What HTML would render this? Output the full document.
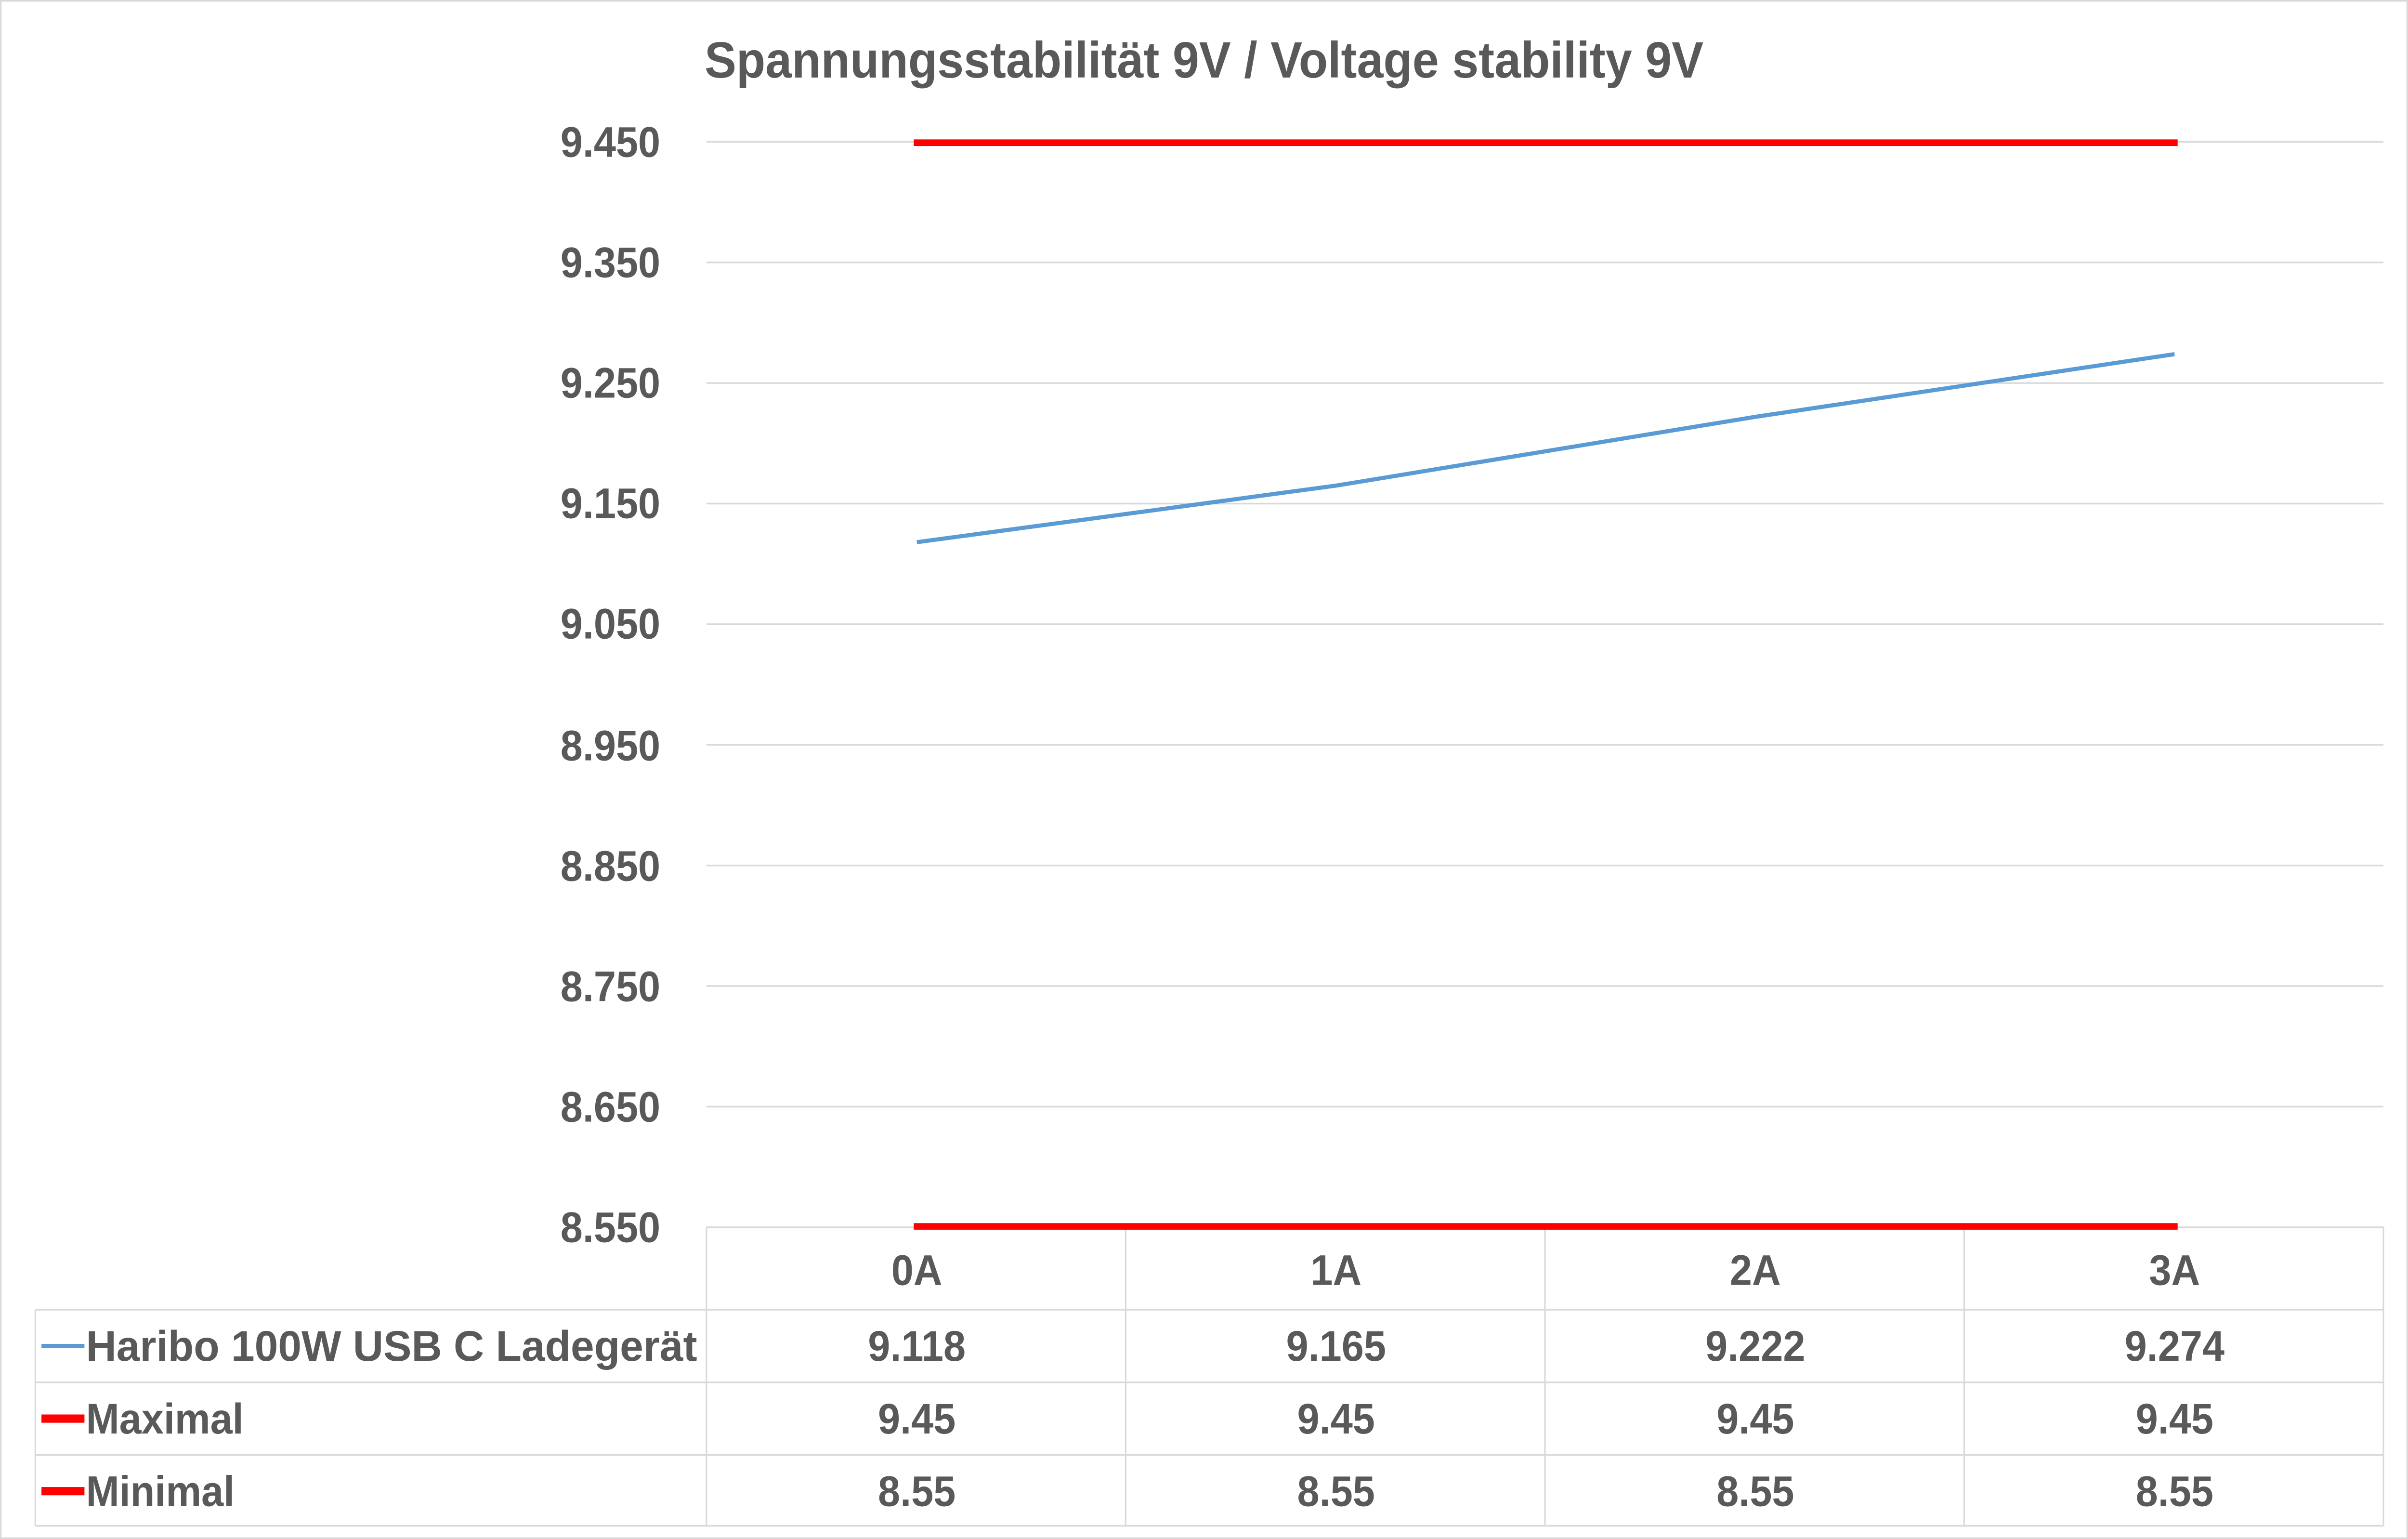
<!DOCTYPE html>
<html><head><meta charset="utf-8"><style>
html,body{margin:0;padding:0;background:#fff;width:100%;height:100%;overflow:hidden;}
svg{display:block;width:100vw;height:100vh;}
text{font-family:"Liberation Sans",sans-serif;font-weight:bold;fill:#595959;}
</style></head><body>
<svg viewBox="0 0 1568 933" preserveAspectRatio="none" xmlns="http://www.w3.org/2000/svg">
<rect x="0.5" y="0.5" width="1567" height="932" fill="#fff" stroke="#d9d9d9" stroke-width="1"/>
<text x="784" y="47" font-size="31" text-anchor="middle">Spannungsstabilität 9V / Voltage stability 9V</text>
<g stroke="#d9d9d9" stroke-width="1">
<line x1="460" y1="86" x2="1552" y2="86"/>
<line x1="460" y1="159.1" x2="1552" y2="159.1"/>
<line x1="460" y1="232.2" x2="1552" y2="232.2"/>
<line x1="460" y1="305.3" x2="1552" y2="305.3"/>
<line x1="460" y1="378.4" x2="1552" y2="378.4"/>
<line x1="460" y1="451.5" x2="1552" y2="451.5"/>
<line x1="460" y1="524.7" x2="1552" y2="524.7"/>
<line x1="460" y1="597.8" x2="1552" y2="597.8"/>
<line x1="460" y1="670.9" x2="1552" y2="670.9"/>
<line x1="460" y1="744" x2="1552" y2="744"/>
<line x1="460" y1="744" x2="460" y2="925"/>
<line x1="733" y1="744" x2="733" y2="925"/>
<line x1="1006" y1="744" x2="1006" y2="925"/>
<line x1="1279" y1="744" x2="1279" y2="925"/>
<line x1="1552" y1="744" x2="1552" y2="925"/>
<line x1="23" y1="794" x2="1552" y2="794"/>
<line x1="23" y1="838" x2="1552" y2="838"/>
<line x1="23" y1="882" x2="1552" y2="882"/>
<line x1="23" y1="925" x2="1552" y2="925"/>
<line x1="23" y1="794" x2="23" y2="925"/>
</g>
<g font-size="26" text-anchor="end">
<text x="430" y="95">9.450</text>
<text x="430" y="168">9.350</text>
<text x="430" y="241">9.250</text>
<text x="430" y="314">9.150</text>
<text x="430" y="387">9.050</text>
<text x="430" y="461">8.950</text>
<text x="430" y="534">8.850</text>
<text x="430" y="607">8.750</text>
<text x="430" y="680">8.650</text>
<text x="430" y="753">8.550</text>
</g>
<line x1="595" y1="86.5" x2="1418" y2="86.5" stroke="#ff0000" stroke-width="4"/>
<line x1="595" y1="743.5" x2="1418" y2="743.5" stroke="#ff0000" stroke-width="4"/>
<polyline points="597,328.7 870,294.4 1143,252.7 1416,214.7" fill="none" stroke="#5b9bd5" stroke-width="2.5"/>
<g font-size="26" text-anchor="middle">
<text x="597" y="779">0A</text><text x="870" y="779">1A</text><text x="1143" y="779">2A</text><text x="1416" y="779">3A</text>
<text x="597" y="825">9.118</text><text x="870" y="825">9.165</text><text x="1143" y="825">9.222</text><text x="1416" y="825">9.274</text>
<text x="597" y="869">9.45</text><text x="870" y="869">9.45</text><text x="1143" y="869">9.45</text><text x="1416" y="869">9.45</text>
<text x="597" y="913">8.55</text><text x="870" y="913">8.55</text><text x="1143" y="913">8.55</text><text x="1416" y="913">8.55</text>
</g>
<line x1="27" y1="816" x2="55" y2="816" stroke="#5b9bd5" stroke-width="2.5"/>
<line x1="27" y1="860" x2="55" y2="860" stroke="#ff0000" stroke-width="5"/>
<line x1="27" y1="904" x2="55" y2="904" stroke="#ff0000" stroke-width="5"/>
<g font-size="26">
<text x="56" y="825" textLength="398" lengthAdjust="spacingAndGlyphs">Haribo 100W USB C Ladegerät</text>
<text x="56" y="869">Maximal</text>
<text x="56" y="913">Minimal</text>
</g>
</svg>
</body></html>
